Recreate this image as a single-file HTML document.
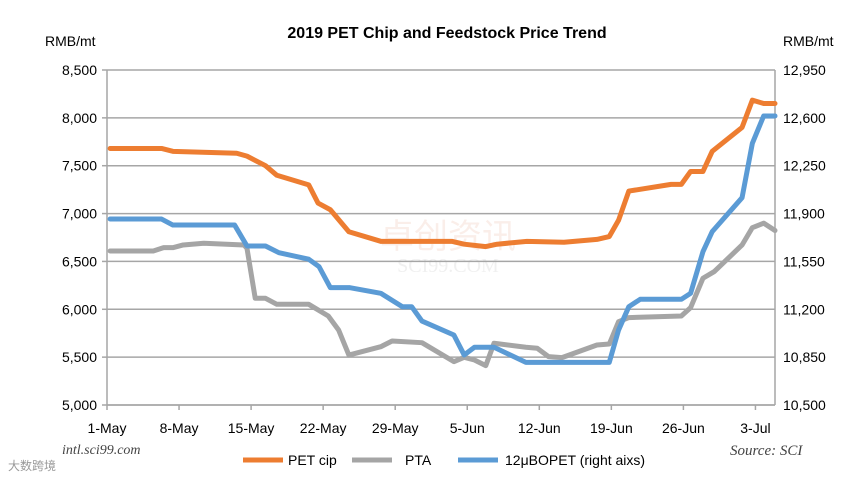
<!DOCTYPE html>
<html><head><meta charset="utf-8"><style>
body{margin:0;background:#fff;width:856px;height:481px;overflow:hidden}
svg text{font-family:"Liberation Sans","Noto Sans CJK SC",sans-serif}
</style></head><body>
<svg id="c" width="856" height="481">
<text x="447" y="38" text-anchor="middle" font-size="16" font-weight="bold" fill="#000">2019 PET Chip and Feedstock Price Trend</text>
<text x="45" y="46" font-size="14" fill="#000">RMB/mt</text>
<text x="783" y="46" font-size="14" fill="#000">RMB/mt</text>
<text x="448" y="248" text-anchor="middle" font-size="34" fill="#f8e4dc" opacity="0.6">卓创资讯</text>
<text x="448" y="272" text-anchor="middle" font-size="20" fill="#f0f0f0" style="font-family:'Liberation Serif',serif">SCI99.COM</text>
<g id="grid"></g><g id="axes"></g><g id="series"></g>
<text x="62" y="454" font-size="14" font-style="italic" fill="#444" style="font-family:'Liberation Serif',serif">intl.sci99.com</text>
<text x="730" y="455" font-size="15" font-style="italic" fill="#444" style="font-family:'Liberation Serif',serif">Source: SCI</text>
<text x="8" y="470" font-size="12" fill="#999">大数跨境</text>
<g>
<line x1="243" y1="460" x2="283" y2="460" stroke="#ED7D31" stroke-width="5"/>
<text x="288" y="465" font-size="14">PET cip</text>
<line x1="352" y1="460" x2="392" y2="460" stroke="#A5A5A5" stroke-width="5"/>
<text x="405" y="465" font-size="14">PTA</text>
<line x1="458" y1="460" x2="498" y2="460" stroke="#5B9BD5" stroke-width="5"/>
<text x="505" y="465" font-size="14">12μBOPET (right aixs)</text>
</g>
</svg>
<script>
const xLabels=["1-May","8-May","15-May","22-May","29-May","5-Jun","12-Jun","19-Jun","26-Jun","3-Jul"];
const xLabelDays=[0,7,14,21,28,35,42,49,56,63];
const leftTicks=[5000,5500,6000,6500,7000,7500,8000,8500];
const rightTicks=[10500,10850,11200,11550,11900,12250,12600,12950];
const petDays=[0.3,5.3,6.4,12.6,13.6,15.4,16.5,19.6,20.5,21.7,23.5,26.6,33.5,34.7,36.8,37.9,40.8,44.4,47.6,48.8,49.7,50.7,54.8,55.8,56.7,57.9,58.8,61.7,62.7,63.8,64.9];
const petVals=[7680,7680,7650,7630,7600,7500,7400,7300,7110,7040,6810,6710,6710,6680,6655,6680,6710,6700,6730,6760,6930,7235,7305,7305,7440,7440,7650,7900,8185,8150,8150];
const ptaDays=[0.3,4.5,5.5,6.4,7.4,9.4,13.3,13.6,14.4,15.4,16.5,19.6,21.5,22.5,23.5,26.6,27.7,30.6,33.7,34.7,35.7,36.8,37.6,40.7,41.8,42.9,44.2,47.6,48.8,49.7,50.7,55.8,56.7,57.9,59,61.7,62.7,63.8,64.9];
const ptaVals=[6609,6609,6644,6644,6672,6690,6672,6637,6115,6115,6052,6052,5930,5784,5522,5609,5669,5651,5453,5498,5470,5411,5645,5603,5593,5505,5495,5627,5637,5870,5913,5930,6017,6324,6394,6672,6853,6900,6823];
const bopetDays=[0.3,5.3,6.4,12.4,13.6,15.4,16.7,19.6,20.6,21.7,23.6,26.6,28.7,29.6,30.6,33.7,34.7,35.7,37.6,40.7,48.8,49.7,50.7,51.8,55.8,56.7,57.9,58.8,61.7,62.7,63.8,64.9];
const bopetVals=[11860,11860,11816,11816,11663,11663,11614,11566,11512,11358,11358,11317,11219,11219,11114,11012,10866,10922,10922,10812,10812,11048,11219,11273,11273,11317,11621,11768,12016,12414,12614,12614];

const X0=107,X1=775,Y0=405,Y1=70,DMAX=64.9;
const xs=d=>X0+d/DMAX*(X1-X0);
const yl=v=>Y0-(v-5000)/3500*(Y0-Y1);
const yr=v=>Y0-(v-10500)/2450*(Y0-Y1);
const NS="http://www.w3.org/2000/svg";
function mk(t,a,p){const e=document.createElementNS(NS,t);for(const k in a)e.setAttribute(k,a[k]);p.appendChild(e);return e;}
const grid=document.getElementById('grid'),axes=document.getElementById('axes'),ser=document.getElementById('series');
leftTicks.forEach((v,i)=>{
  const y=yl(v);
  const g=mk('line',{x1:X0,x2:X1,y1:y,y2:y,stroke:'#a6a6a6','stroke-width':1.5},grid);
  
  
  const t=mk('text',{x:97,y:y+5,'text-anchor':'end','font-size':14},axes);
  t.textContent=v.toLocaleString('en-US');
  
  
  const k=mk('line',{x1:X0-5,x2:X0,y1:y,y2:y,stroke:'#a6a6a6','stroke-width':1.5},axes);
  
  
});
rightTicks.forEach(v=>{
  const y=yr(v);
  const t=mk('text',{x:783,y:y+5,'font-size':14},axes);
  t.textContent=v.toLocaleString('en-US');
  
  
});
[[X0,Y1,X0,Y0],[X1,Y1,X1,Y0],[X0,Y0,X1,Y0]].forEach(a=>{
  const l=mk('line',{x1:a[0],y1:a[1],x2:a[2],y2:a[3],stroke:'#a6a6a6','stroke-width':1.5},axes);
  
  
});
xLabels.forEach((s,i)=>{
  const x=xs(xLabelDays[i]);
  const k=mk('line',{x1:x,x2:x,y1:Y0,y2:Y0+5,stroke:'#a6a6a6','stroke-width':1.5},axes);
  
  
  const t=mk('text',{x:x,y:433,'text-anchor':'middle','font-size':14},axes);
  t.textContent=s;
  
  
});
function line(days,vals,fy,color,name){
  const p=mk('polyline',{points:days.map((d,i)=>xs(d)+','+fy(vals[i])).join(' '),fill:'none',stroke:color,'stroke-width':5,'stroke-linejoin':'round','stroke-linecap':'round'},ser);
  
  
}
line(ptaDays,ptaVals,yl,'#A5A5A5','pta-line');
line(bopetDays,bopetVals,yr,'#5B9BD5','bopet-line');
line(petDays,petVals,yl,'#ED7D31','pet-chip-line');
</script>
</body></html>
